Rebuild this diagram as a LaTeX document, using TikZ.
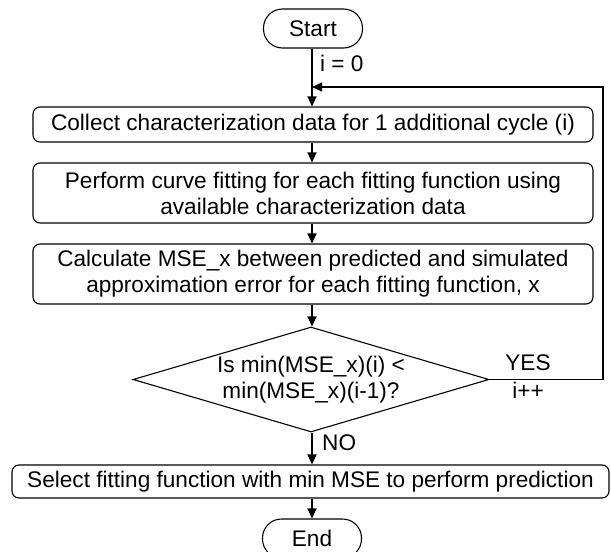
\documentclass[tikz,border=0pt]{standalone}
\usepackage{fontspec}
\setmainfont{Liberation Sans}
\usetikzlibrary{shapes.geometric,arrows.meta}
\tikzset{
  every node/.style={font=\fontsize{22.6}{26}\selectfont, inner sep=0pt},
  term/.style={draw, line width=1.1pt, rounded corners=19pt, minimum width=99pt, minimum height=39pt},
  procbox/.style={draw, line width=1.1pt, rounded corners=7pt, minimum width=560pt, align=center},
  decision/.style={draw, line width=1.1pt, diamond, minimum width=356pt, minimum height=105pt},
  arr/.style={line width=1.1pt, -{Triangle[length=10pt,width=9pt]}}
}
\begin{document}
\begin{tikzpicture}[x=1pt,y=-1pt]
\useasboundingbox (0,0) rectangle (611,552);
\node[term] (start) at (313,28.5) {Start};
\node[procbox, minimum height=35pt] (b1) at (313,124.5) {Collect characterization data for 1 additional cycle (i)};
\node[procbox, minimum height=60pt] (b2) at (313,193) {Perform curve fitting for each fitting function using\\available characterization data};
\node[procbox, minimum height=60pt] (b3) at (313,274) {Calculate MSE\_x between predicted and simulated\\approximation error for each fitting function, x};
\node[decision] (dec) at (311,379.5) {};
\node[align=center] (dectext) at (dec.center) {Is min(MSE\_x)(i) <\\min(MSE\_x)(i-1)?};
\node[procbox, minimum width=597pt, minimum height=33pt] (b4) at (310.5,481.5) {Select fitting function with min MSE to perform prediction};
\node[term] (end) at (312,538.5) {End};
\coordinate (loopR) at (603,87);
\coordinate (loopJ) at (312,87);
\node[anchor=west] (izero) at (320,63) {i = 0};
\node (yes) at (528,363) {YES};
\node (iplus) at (528,390) {i++};
\node[anchor=west] (no) at (322,443) {NO};
\draw[arr] (start.south -| loopJ) -- (b1.north -| loopJ);
\draw[arr] (dec.east) -| (loopR) -- (loopJ);
\draw[arr] (b1.south -| loopJ) -- (b2.north -| loopJ);
\draw[arr] (b2.south -| loopJ) -- (b3.north -| loopJ);
\draw[arr] (b3.south -| loopJ) -- (dec.north -| loopJ);
\draw[arr] (dec.south -| loopJ) -- (b4.north -| loopJ);
\draw[arr] (b4.south -| loopJ) -- (end.north -| loopJ);
\end{tikzpicture}
\end{document}
